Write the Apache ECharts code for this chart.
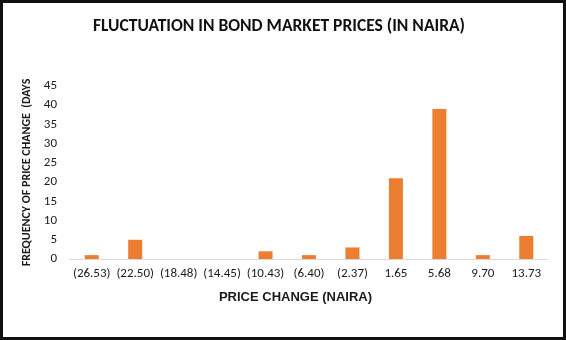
<!DOCTYPE html>
<html><head><meta charset="utf-8">
<script src="https://cdn.jsdelivr.net/npm/echarts@6/dist/echarts.min.js"></script>
<style>
html,body{margin:0;padding:0;background:#fff;}
#wrap{width:566px;height:340px;box-sizing:border-box;border:3px solid #111;background:#fff;}
#chart{width:560px;height:334px;}
</style></head>
<body><div id="wrap"><div id="chart"></div></div>
<script>
var categories = ['(26.53)','(22.50)','(18.48)','(14.45)','(10.43)','(6.40)','(2.37)','1.65','5.68','9.70','13.73'];
var frequency = [1,5,0,0,2,1,3,21,39,1,6];
var titleText = 'FLUCTUATION IN BOND MARKET PRICES (IN NAIRA)';
var xName = 'PRICE CHANGE (NAIRA)';
var yName = 'FREQUENCY OF PRICE CHANGE  (DAYS';

var chart = echarts.init(document.getElementById('chart'), null, {renderer:'canvas'});
var lab = 'Carlito, Lato, "Open Sans", sans-serif';
chart.setOption({
  animation:false,
  backgroundColor:'#fff',
  title:{text:titleText,left:85,top:10,
    textStyle:{fontFamily:lab,fontWeight:900,fontSize:17.5,color:'#111'}},
  grid:{left:67,right:15,top:83,bottom:78},
  xAxis:{type:'category',data:categories,
    axisLine:{lineStyle:{color:'#d9d9d9',width:1}},
    axisTick:{show:false},
    axisLabel:{fontFamily:lab,fontSize:13,color:'#1a1a1a',margin:8,interval:0},
    name:xName,nameLocation:'middle',nameGap:32,
    nameTextStyle:{fontFamily:'Liberation Sans, Arial, sans-serif',fontWeight:'bold',fontSize:13,color:'#1a1a1a',padding:[0,27,0,0]}},
  yAxis:{type:'value',min:0,max:45,interval:5,
    splitLine:{show:false},axisLine:{show:false},axisTick:{show:false},
    axisLabel:{fontFamily:lab,fontSize:13,color:'#1a1a1a',margin:13},
    name:yName,nameLocation:'middle',nameGap:31,nameRotate:90,
    nameTextStyle:{fontFamily:lab,fontWeight:'bold',fontSize:12,color:'#1a1a1a'}},
  series:[{type:'bar',data:frequency,barWidth:14,itemStyle:{color:'#ED7D31'}}]
});
</script></body></html>
